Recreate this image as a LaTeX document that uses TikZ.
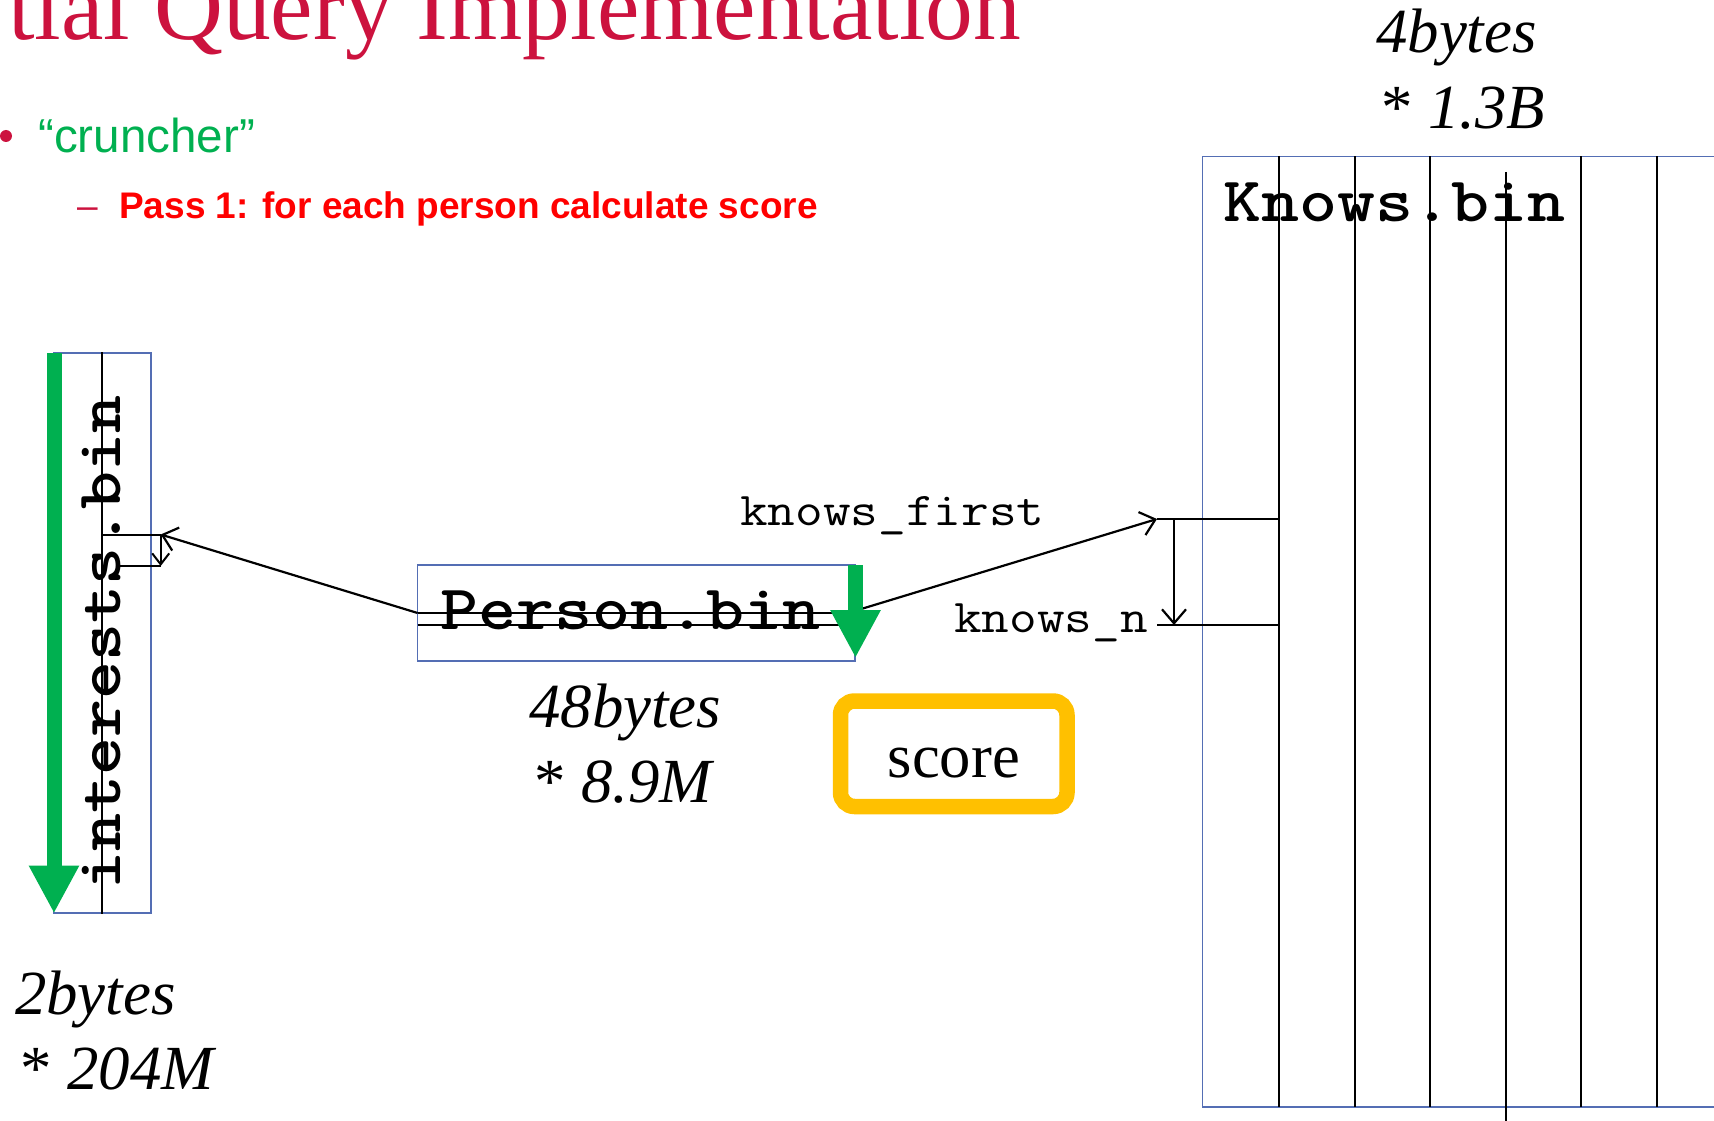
\documentclass[tikz,border=0pt]{standalone}
\usepackage{fontspec}
\usepackage{graphicx}
\usetikzlibrary{arrows.meta}
\newfontfamily\tnr{Liberation Serif}
\newfontfamily\ari{Liberation Sans}
\definecolor{crim}{RGB}{204,18,62}
\definecolor{ggreen}{RGB}{0,176,80}
\definecolor{pred}{RGB}{255,0,0}
\definecolor{bbox}{RGB}{84,110,180}
\definecolor{amber}{RGB}{255,192,0}
\newcommand\monob[1]{\scalebox{1.143}[1]{\ttfamily\bfseries #1}}
\newcommand\monor[1]{\scalebox{1.143}[1]{\ttfamily #1}}
\begin{document}
\begin{tikzpicture}[x=1pt,y=-1pt,
  txt/.style={inner sep=0pt, anchor=base west},
  lbl/.style={txt, font=\tnr\itshape\fontsize{62.8}{62.8}\selectfont},
  monobig/.style={txt, font=\fontsize{63.3}{63.3}\selectfont},
  monosmall/.style={txt, font=\fontsize{47}{47}\selectfont},
  bluebox/.style={draw=bbox, line width=1.5pt, inner sep=0pt},
  field/.style={draw=black, line width=2pt},
  ptr/.style={draw=black, line width=2.2pt, -{Straight Barb[length=14pt,width=24pt]}},
  ptrsmall/.style={draw=black, line width=2pt, -{Straight Barb[length=11pt,width=17pt]}},
  flow/.style={draw=ggreen, line width=15pt, -{Triangle[length=48pt,width=47pt]}},
]
\useasboundingbox (0,0) rectangle (1714,1121);
\clip (0,0) rectangle (1714,1121);

% boxes
\node[bluebox, minimum width=97.3pt, minimum height=560pt] (ibox) at (102.25,633) {};
\node[bluebox, minimum width=437.2pt, minimum height=96pt] (pbox) at (636.2,613) {};
\node[bluebox, minimum width=527.3pt, minimum height=950.7pt] (kbox) at (1466.35,631.65) {};

% title and bullets
\node[txt, text=crim, font=\tnr\fontsize{95.5}{95.5}\selectfont] (title) at (8,40) {tial Query Implementation};
\fill[crim] (6,136) circle (6);
\node[txt, text=ggreen, font=\ari\fontsize{47.6}{47.6}\selectfont] (cr) at (38,153) {“cruncher”};
\node[txt, text=crim, font=\ari\fontsize{37}{37}\selectfont] (dash) at (77,218) {–};
\node[txt, text=pred, font=\ari\bfseries\fontsize{37}{37}\selectfont] (pass) at (119,218) {Pass 1: for each person calculate score};

% file names
\node[monobig] (pname) at (440,629.5) {\monob{Person.bin}};
\node[monobig] (kname) at (1223,221) {\monob{Knows.bin}};
\node[monobig, rotate=90] (iname) at (120,890) {\monob{interests.bin}};
\node[monosmall] (kf) at (740,525) {\monor{knows\_first}};
\node[monosmall] (kn) at (954,632) {\monor{knows\_n}};

% size labels
\node[lbl] (p48) at (529,727) {48bytes};
\node[lbl] (p89) at (534,802) {{\upshape *} 8.9M};
\node[lbl] (i2) at (15,1014) {2bytes};
\node[lbl] (i204) at (20,1089) {{\upshape *} 204M};
\node[lbl] (k4) at (1376,53) {4bytes};
\node[lbl] (k13) at (1381,129) {{\upshape *} 1.3B};

% score
\node[draw=amber, line width=15.5pt, rounded corners=14pt, minimum width=226.5pt, minimum height=105.5pt, inner sep=0pt, text height=50pt, text depth=3.5pt, font=\tnr\fontsize{62.6}{62.6}\selectfont] (score) at (953.75,753.75) {score};

% interests middle line
\draw[field] (ibox.north) -- (ibox.south);

% knows column lines
\foreach \x in {1279,1354.5,1430,1581,1656.5} \draw[field] (\x,156.3) -- (\x,1107);
\coordinate (kc4top) at (1505.5,172);
\coordinate (kc4bot) at (1505.5,1125);
\draw[field] (kc4top) -- (kc4bot);

% pointer coordinates
\coordinate (i1a) at (102.8,534.5);
\coordinate (i1b) at (160.7,534.5);
\coordinate (i2a) at (118,566);
\coordinate (i2b) at (160.7,566);
\coordinate (p1a) at (417.6,613);
\coordinate (p1b) at (848,613);
\coordinate (p2a) at (417.6,625);
\coordinate (p2b) at (854.8,625);
\coordinate (k1a) at (1157,519);
\coordinate (k1b) at (1279,519);
\coordinate (k2a) at (1157,625);
\coordinate (k2b) at (1279,625);
\coordinate (k1c) at (1174,519);
\coordinate (k2c) at (1174,625);

\draw[field] (i1a) -- (i1b);
\draw[field] (i2a) -- (i2b);
\draw[ptrsmall] (i1b) -- (i2b);
\draw[field] (p1a) -- (p1b);
\draw[field] (p2a) -- (p2b);
\draw[ptr] (p1a) -- (i1b);
\draw[ptr] (p1b) -- (k1a);
\draw[field] (k1a) -- (k1b);
\draw[field] (k2a) -- (k2b);
\draw[ptr] (k1c) -- (k2c);

% green scan arrows
\coordinate (gi1) at (54,353);
\coordinate (gi2) at (54,913.5);
\coordinate (gp1) at (855.5,565);
\coordinate (gp2) at (855.5,658);
\draw[flow] (gi1) -- (gi2);
\draw[flow] (gp1) -- (gp2);
\end{tikzpicture}
\end{document}
